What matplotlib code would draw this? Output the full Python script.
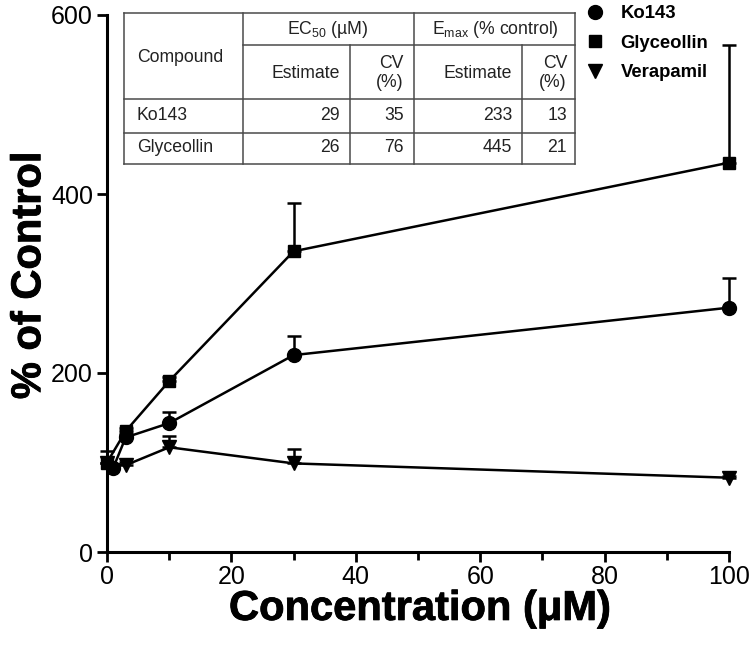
import matplotlib
matplotlib.use("Agg")
import matplotlib.pyplot as plt
import matplotlib.patheffects as pe
from matplotlib.lines import Line2D
import numpy as np

plt.rcParams["font.family"] = ["Liberation Sans", "DejaVu Sans"]
plt.rcParams["mathtext.fontset"] = "custom"
plt.rcParams["mathtext.rm"] = "Liberation Sans"
plt.rcParams["mathtext.it"] = "Liberation Sans"
plt.rcParams["mathtext.default"] = "regular"

# data
glyc_x = [0, 3, 10, 30, 100]
glyc_y = [100, 135, 191, 336, 435]
glyc_err = [13, 4, 4, 54, 131]

ko_x = [1, 3, 10, 30, 100]
ko_y = [94, 128, 144, 220, 273]
ko_err = [3, 4, 12, 21, 33]

vera_x = [0, 3, 10, 30, 100]
vera_y = [100, 97, 117, 99, 83]
vera_err = [0, 4, 13, 16, 2]

series_names = ["Ko143", "Glyceollin", "Verapamil"]

table_compounds = ["Ko143", "Glyceollin"]
ec50_est = ["29", "26"]
ec50_cv = ["35", "76"]
emax_est = ["233", "445"]
emax_cv = ["13", "21"]

W, H = 750, 653
fig = plt.figure(figsize=(W / 100, H / 100), dpi=100)
ax = fig.add_axes([107 / W, 1 - 552 / H, (729 - 107) / W, (552 - 15) / H])


def fx(px):
    return px / W


def fy(py):
    return 1 - py / H


lw = 1.8
for x, y, e, m, ms in [
    (glyc_x, glyc_y, glyc_err, "s", 9),
    (ko_x, ko_y, ko_err, "o", 10),
    (vera_x, vera_y, vera_err, "v", 10),
]:
    ax.errorbar(x, y, yerr=[np.zeros(len(e)), e], fmt="none", ecolor="black",
                elinewidth=lw, capsize=5, capthick=lw, clip_on=False, zorder=2)
    ax.plot(x, y, color="black", lw=lw, marker=m, ms=ms, clip_on=False, zorder=3)

ax.set_xlim(0, 100)
ax.set_ylim(0, 600)
ax.set_xticks(np.arange(0, 101, 20))
ax.set_xticks(np.arange(0, 101, 10), minor=True)
ax.set_yticks([0, 200, 400, 600])
for s in ["top", "right"]:
    ax.spines[s].set_visible(False)
for s in ["left", "bottom"]:
    ax.spines[s].set_linewidth(2.2)
ax.tick_params(which="both", direction="out", width=2, labelsize=18, colors="black")
ax.tick_params(which="major", length=7)
ax.tick_params(which="minor", length=6)
ax.tick_params(axis="x", pad=2)
ax.tick_params(axis="y", pad=3)

heavy = [pe.withStroke(linewidth=0.6, foreground="black")]
ax.set_xlabel("Concentration (\u03bcM)", fontsize=30, fontweight="bold",
              va="center", path_effects=heavy)
ax.xaxis.set_label_coords(0.503, -0.106)
ax.set_ylabel("% of Control", fontsize=30, fontweight="bold",
              va="center", path_effects=heavy)
ax.yaxis.set_label_coords(-0.125, 0.515)

# legend
handles = [Line2D([], [], color="black", marker=m, ls="none", ms=ms)
           for m, ms in [("o", 10), ("s", 9), ("v", 10)]]
fig.legend(handles, series_names, loc="upper left", bbox_to_anchor=(fx(577), fy(-4)),
           frameon=False, prop={"size": 13.3, "weight": "bold"}, handletextpad=0.85,
           labelspacing=0.68, handlelength=1.0, borderpad=0)

# summary table
gc = "#4a4a4a"
tlw = 1.1
cols = [124, 243, 350, 414, 522, 575]
rows = [13, 45, 99, 133, 164]


def hline(y, x0, x1):
    fig.add_artist(Line2D([fx(x0), fx(x1)], [fy(y), fy(y)], color=gc, lw=tlw))


def vline(x, y0, y1):
    fig.add_artist(Line2D([fx(x), fx(x)], [fy(y0), fy(y1)], color=gc, lw=tlw))


hline(rows[0], cols[0], cols[-1])
hline(rows[1], cols[1], cols[-1])
for r in rows[2:]:
    hline(r, cols[0], cols[-1])
for c in [cols[0], cols[1], cols[3], cols[5]]:
    vline(c, rows[0], rows[-1])
for c in [cols[2], cols[4]]:
    vline(c, rows[1], rows[-1])

tfs = 12.7
tc = "#222222"


def txt(x, y, s, ha="left"):
    fig.text(fx(x), fy(y), s, ha=ha, va="center", fontsize=tfs, color=tc)


txt(137, 57, "Compound")
txt(328, 30, "EC$_{50}$ (\u00b5M)", ha="center")
txt(495, 30, "E$_{max}$ (% control)", ha="center")
txt(340, 73, "Estimate", ha="right")
txt(404, 73, "CV\n(%)", ha="right")
txt(512, 73, "Estimate", ha="right")
txt(567, 73, "CV\n(%)", ha="right")
for i, name in enumerate(table_compounds):
    y = [116, 148][i]
    txt(137, y, name)
    txt(340, y, ec50_est[i], ha="right")
    txt(404, y, ec50_cv[i], ha="right")
    txt(512, y, emax_est[i], ha="right")
    txt(567, y, emax_cv[i], ha="right")

fig.savefig("out.png", dpi=100)
